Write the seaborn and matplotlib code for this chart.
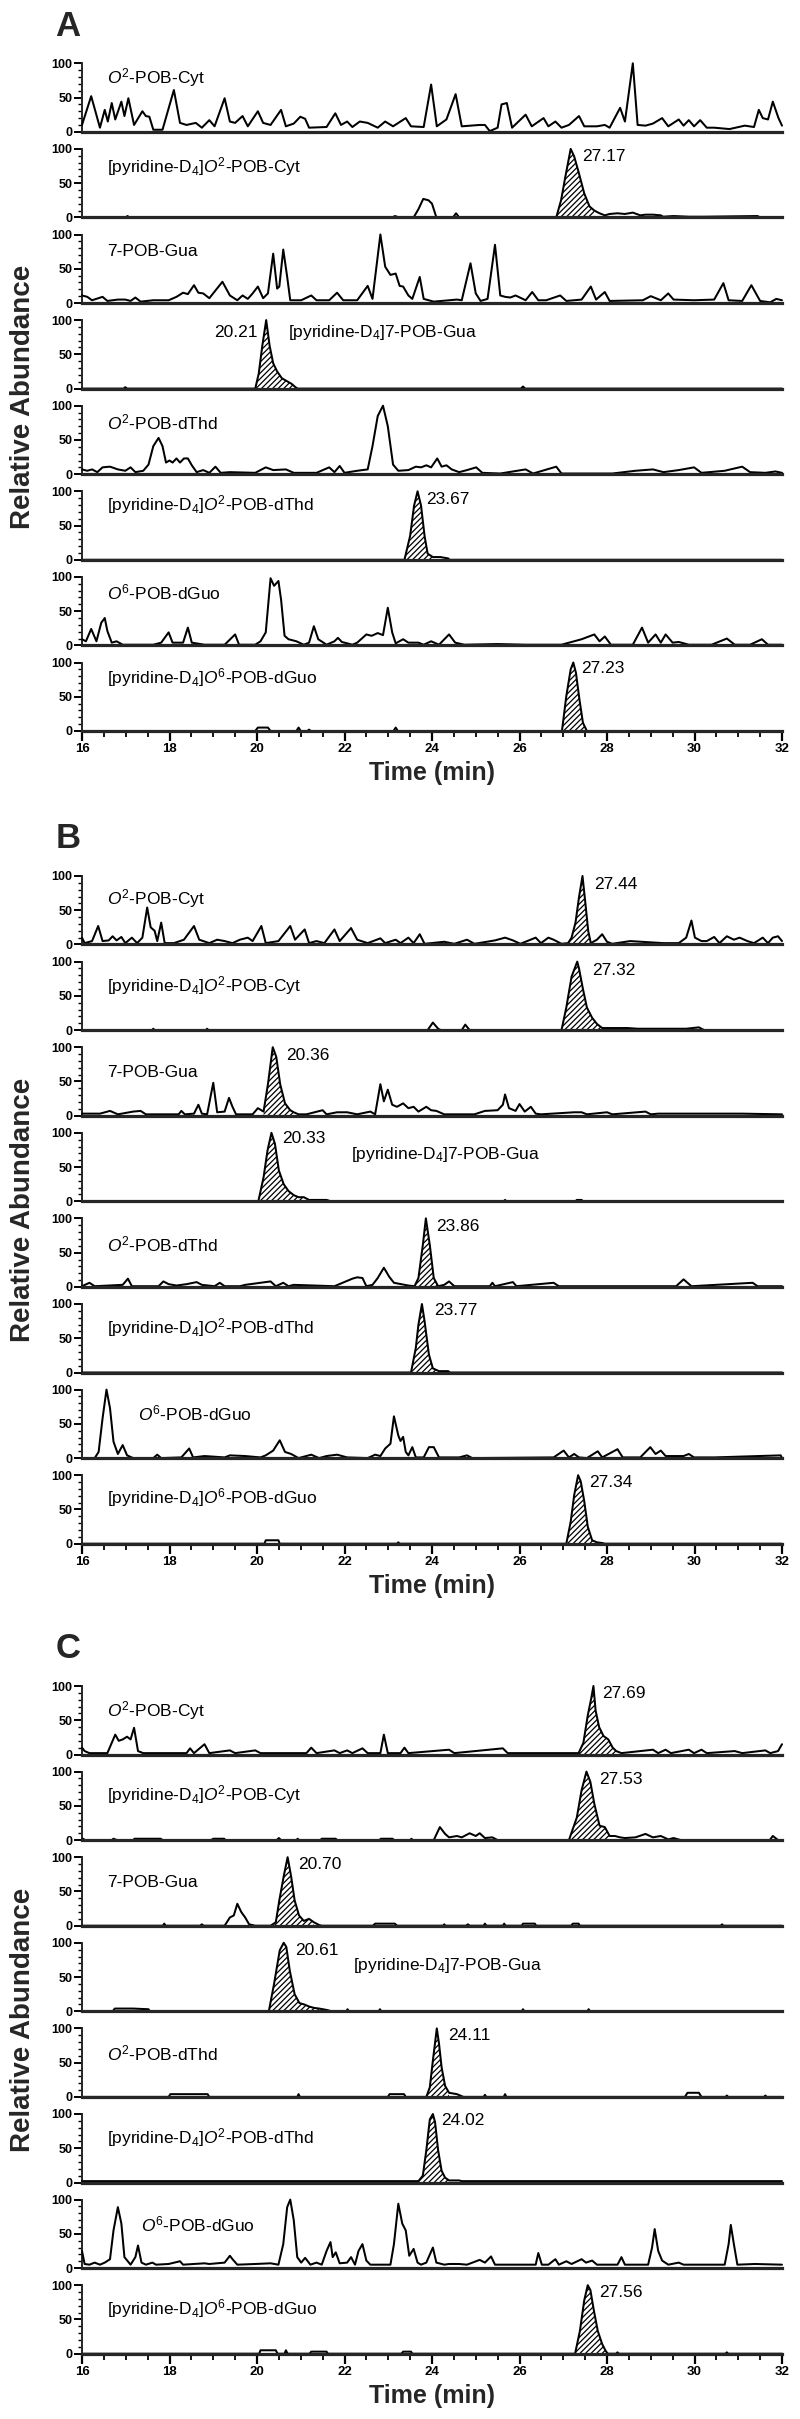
import numpy as np
import pandas as pd
import matplotlib
matplotlib.use("Agg")
import matplotlib.pyplot as plt
import seaborn as sns
from matplotlib.ticker import MultipleLocator
from matplotlib import font_manager

sns.set_theme(style="ticks")
names = {f.name for f in font_manager.fontManager.ttflist}
NARROW = "Liberation Sans Narrow" if "Liberation Sans Narrow" in names else "Liberation Sans"
plt.rcParams["font.family"] = [NARROW, "Liberation Sans", "DejaVu Sans"]
plt.rcParams["mathtext.fontset"] = "custom"
plt.rcParams["mathtext.rm"] = NARROW
plt.rcParams["mathtext.it"] = NARROW + ":italic"
plt.rcParams["mathtext.bf"] = NARROW + ":bold"
plt.rcParams["hatch.linewidth"] = 0.9

# ---------------- data ----------------
time_ticks = [16, 18, 20, 22, 24, 26, 28, 30, 32]
compounds = [r"$\mathit{O}^{2}$-POB-Cyt",
             r"[pyridine-D$_{4}$]$\mathit{O}^{2}$-POB-Cyt",
             "7-POB-Gua",
             r"[pyridine-D$_{4}$]7-POB-Gua",
             r"$\mathit{O}^{2}$-POB-dThd",
             r"[pyridine-D$_{4}$]$\mathit{O}^{2}$-POB-dThd",
             r"$\mathit{O}^{6}$-POB-dGuo",
             r"[pyridine-D$_{4}$]$\mathit{O}^{6}$-POB-dGuo"]

# Panel A traces (time min, relative abundance %)
A1 = [(16.00,10),(16.21,52),(16.41,6),(16.52,32),(16.59,15),(16.68,42),(16.76,18),(16.90,44),(16.97,23),(17.06,49),(17.19,10),(17.38,30),(17.46,23),(17.54,22),(17.63,3),(17.84,3),(18.10,61),(18.24,13),(18.39,10),(18.60,13),(18.74,6),(18.91,17),(19.03,8),(19.26,49),(19.38,15),(19.50,13),(19.67,23),(19.79,8),(20.02,30),(20.14,13),(20.31,10),(20.55,32),(20.66,8),(20.84,12),(20.99,22),(21.10,19),(21.19,6),(21.59,7),(21.79,27),(21.92,10),(22.06,15),(22.18,7),(22.35,15),(22.53,13),(22.76,6),(22.93,15),(23.11,8),(23.40,20),(23.52,8),(23.81,7),(23.98,69),(24.11,8),(24.33,18),(24.54,55),(24.68,8),(25.09,10),(25.21,10),(25.32,1),(25.50,6),(25.59,40),(25.71,42),(25.83,6),(26.14,25),(26.28,8),(26.55,20),(26.66,8),(26.82,15),(26.96,6),(27.13,10),(27.36,23),(27.48,8),(27.77,8),(27.95,10),(28.06,6),(28.30,35),(28.41,15),(28.59,100),(28.70,10),(28.88,9),(29.05,12),(29.26,20),(29.40,8),(29.64,18),(29.75,9),(29.87,17),(29.99,8),(30.13,17),(30.28,6),(30.45,6),(30.80,4),(31.15,9),(31.36,7),(31.47,32),(31.56,20),(31.68,18),(31.79,44),(31.92,20),(32.00,9)]
A2 = [(16.00,0),(17.00,0),(17.04,2),(17.08,0),(23.10,0),(23.15,2),(23.25,0),(23.58,0),(23.69,12),(23.80,27),(23.92,25),(24.00,20),(24.10,0),(24.48,0),(24.55,6),(24.62,0),(26.84,0),(26.95,25),(27.05,60),(27.17,100),(27.25,89),(27.36,64),(27.48,35),(27.60,16),(27.71,10),(27.83,6),(27.95,3),(28.06,5),(28.24,6),(28.41,5),(28.59,7),(28.76,3),(28.88,4),(29.05,4),(29.23,3),(29.28,1),(29.52,2),(29.87,1),(30.22,1),(31.44,2),(31.50,0),(32.00,0)]
A3 = [(16.00,11),(16.12,9),(16.23,4),(16.47,9),(16.58,3),(16.82,5),(16.99,5),(17.11,3),(17.22,8),(17.34,2),(17.63,4),(17.98,4),(18.16,9),(18.31,15),(18.42,13),(18.56,26),(18.66,15),(18.77,14),(18.91,7),(19.21,31),(19.38,11),(19.55,4),(19.67,11),(19.79,6),(19.90,14),(20.02,24),(20.14,7),(20.25,14),(20.37,72),(20.46,21),(20.51,24),(20.60,78),(20.69,38),(20.76,4),(21.01,4),(21.24,11),(21.36,4),(21.65,4),(21.83,15),(21.97,4),(22.29,4),(22.53,25),(22.64,6),(22.82,100),(22.93,53),(23.05,41),(23.17,43),(23.26,25),(23.34,24),(23.46,11),(23.55,6),(23.72,38),(23.81,6),(24.04,2),(24.57,5),(24.68,4),(24.88,58),(25.00,14),(25.11,3),(25.27,6),(25.44,85),(25.56,11),(25.67,9),(25.79,8),(25.91,11),(26.14,4),(26.29,16),(26.43,4),(26.61,4),(26.93,11),(27.07,3),(27.42,5),(27.63,24),(27.75,5),(27.95,16),(28.06,3),(28.82,4),(29.00,10),(29.23,4),(29.40,14),(29.52,5),(29.99,4),(30.45,5),(30.66,29),(30.78,4),(31.09,3),(31.30,26),(31.50,3),(31.73,1),(31.87,6),(32.00,4)]
A4 = [(16.00,0),(16.95,0),(16.99,2),(17.03,0),(19.96,0),(20.04,22),(20.12,62),(20.21,100),(20.29,62),(20.37,37),(20.46,25),(20.57,15),(20.68,11),(20.79,7),(20.88,2),(20.93,0),(26.03,0),(26.08,3),(26.13,0),(32.00,0)]
A5 = [(16.00,7),(16.12,5),(16.23,7),(16.35,3),(16.47,10),(16.64,11),(16.82,7),(16.99,5),(17.11,10),(17.22,3),(17.40,5),(17.52,14),(17.63,41),(17.75,53),(17.84,41),(17.92,17),(18.00,20),(18.07,17),(18.16,23),(18.24,17),(18.33,23),(18.42,23),(18.51,13),(18.62,3),(18.77,6),(18.91,2),(19.05,11),(19.17,2),(19.38,3),(19.96,2),(20.20,10),(20.37,6),(20.66,7),(20.84,2),(21.36,2),(21.65,10),(21.77,3),(21.89,12),(22.00,2),(22.29,5),(22.53,7),(22.64,41),(22.76,85),(22.88,100),(22.99,70),(23.11,14),(23.23,5),(23.46,6),(23.63,11),(23.75,10),(23.87,13),(23.98,10),(24.12,23),(24.22,11),(24.33,13),(24.45,7),(24.62,3),(24.80,6),(25.01,10),(25.15,2),(25.56,1),(26.14,7),(26.31,1),(26.84,11),(26.96,1),(28.12,1),(28.65,5),(29.05,7),(29.29,3),(29.64,6),(29.99,10),(30.16,2),(30.69,5),(31.09,11),(31.27,3),(31.62,2),(31.85,4),(32.00,2)]
A6 = [(16.00,0),(23.37,0),(23.50,35),(23.59,79),(23.67,100),(23.75,79),(23.83,35),(23.90,9),(24.02,4),(24.19,4),(24.37,2),(24.40,0),(32.00,0)]
A7 = [(16.00,9),(16.09,6),(16.21,24),(16.33,6),(16.44,33),(16.52,40),(16.58,21),(16.68,4),(16.79,6),(16.93,1),(17.63,1),(17.81,4),(17.98,19),(18.07,4),(18.31,4),(18.42,26),(18.51,4),(18.80,1),(19.26,1),(19.50,16),(19.59,1),(19.96,1),(20.08,6),(20.20,19),(20.31,98),(20.39,87),(20.49,94),(20.55,67),(20.63,14),(20.72,9),(20.90,6),(21.07,1),(21.19,4),(21.30,28),(21.40,9),(21.59,1),(21.77,6),(21.85,11),(21.94,5),(22.18,1),(22.29,4),(22.50,16),(22.62,14),(22.76,18),(22.88,15),(22.99,55),(23.09,19),(23.17,3),(23.34,9),(23.46,4),(23.69,4),(23.81,1),(23.98,6),(24.16,1),(24.39,16),(24.53,4),(24.74,1),(25.50,2),(26.14,1),(26.96,1),(27.42,9),(27.71,16),(27.83,6),(27.95,13),(28.09,1),(28.59,1),(28.80,26),(28.94,4),(29.11,16),(29.23,4),(29.34,16),(29.50,4),(29.64,5),(29.87,1),(30.39,1),(30.74,10),(30.92,1),(31.27,1),(31.54,9),(31.68,1),(32.00,1)]
A8 = [(16.00,0),(19.96,0),(20.02,5),(20.25,5),(20.31,0),(20.90,0),(20.95,5),(21.00,0),(21.15,0),(21.19,2),(21.23,0),(23.12,0),(23.17,5),(23.22,0),(26.97,0),(27.07,51),(27.17,90),(27.23,100),(27.29,85),(27.37,46),(27.45,12),(27.54,0),(32.00,0)]

# Panel B traces
B1 = [(16.00,10),(16.06,2),(16.23,5),(16.37,27),(16.47,5),(16.61,6),(16.70,12),(16.79,6),(16.90,11),(16.99,2),(17.14,10),(17.26,2),(17.38,10),(17.49,54),(17.57,25),(17.66,20),(17.72,5),(17.81,32),(17.89,2),(18.10,2),(18.33,7),(18.56,27),(18.68,7),(18.91,2),(19.09,7),(19.26,5),(19.44,2),(19.61,7),(19.79,10),(19.90,5),(20.10,27),(20.20,2),(20.49,5),(20.76,27),(20.87,7),(21.09,22),(21.19,2),(21.36,5),(21.54,2),(21.77,22),(21.89,5),(22.15,24),(22.29,7),(22.53,2),(22.82,9),(22.93,2),(23.17,7),(23.28,2),(23.46,10),(23.58,2),(23.72,15),(23.83,1),(24.28,4),(24.51,1),(24.80,7),(24.97,1),(25.44,6),(25.67,10),(25.85,6),(26.02,1),(26.37,10),(26.49,2),(26.66,10),(26.78,7),(26.96,1),(27.11,2),(27.19,10),(27.28,32),(27.36,69),(27.44,100),(27.50,64),(27.57,20),(27.63,2),(27.77,7),(27.89,15),(28.00,4),(28.12,1),(28.53,5),(29.29,2),(29.64,2),(29.81,10),(29.93,35),(30.01,10),(30.16,5),(30.28,5),(30.45,11),(30.57,2),(30.74,12),(30.90,7),(31.03,10),(31.21,5),(31.36,2),(31.56,10),(31.68,2),(31.79,10),(31.91,12),(32.00,5)]
B2 = [(16.00,0),(17.60,0),(17.63,2),(17.66,0),(18.83,0),(18.86,2),(18.89,0),(23.90,0),(24.02,11),(24.14,2),(24.20,0),(24.68,0),(24.76,8),(24.86,0),(26.96,0),(27.07,33),(27.19,78),(27.32,100),(27.36,90),(27.45,60),(27.54,33),(27.66,18),(27.77,9),(27.89,3),(28.12,3),(28.47,3),(28.70,2),(29.11,2),(29.81,2),(30.10,4),(30.22,0),(32.00,0)]
B3 = [(16.00,3),(16.41,3),(16.64,7),(16.82,2),(17.17,6),(17.34,7),(17.46,2),(18.21,2),(18.27,7),(18.35,2),(18.56,3),(18.66,16),(18.74,3),(18.86,2),(19.00,48),(19.09,5),(19.26,6),(19.36,26),(19.44,13),(19.52,2),(19.90,2),(20.02,11),(20.15,6),(20.25,46),(20.36,100),(20.44,86),(20.53,46),(20.64,18),(20.76,8),(20.84,5),(20.95,2),(21.13,2),(21.50,8),(21.59,2),(21.83,5),(22.06,5),(22.29,2),(22.59,6),(22.70,2),(22.82,46),(22.90,21),(22.99,38),(23.09,16),(23.20,13),(23.34,18),(23.46,11),(23.58,13),(23.69,6),(23.87,13),(23.98,8),(24.10,7),(24.28,2),(24.97,2),(25.21,7),(25.50,8),(25.62,16),(25.67,31),(25.76,11),(25.91,7),(26.00,17),(26.12,6),(26.26,13),(26.37,3),(26.49,2),(27.25,5),(27.42,5),(27.54,2),(28.00,5),(28.12,2),(28.88,6),(29.00,2),(29.17,3),(30.45,3),(31.09,3),(32.00,2)]
B4 = [(16.00,0),(20.03,0),(20.15,35),(20.24,74),(20.33,100),(20.41,84),(20.50,45),(20.61,25),(20.72,15),(20.84,9),(20.95,6),(21.07,6),(21.19,2),(21.59,2),(21.69,0),(25.64,0),(25.67,2),(25.70,0),(27.28,0),(27.31,2),(27.42,2),(27.45,0),(32.00,0)]
B5 = [(16.00,1),(16.17,6),(16.29,1),(16.93,3),(17.05,12),(17.14,1),(17.75,1),(17.86,8),(17.98,4),(18.16,2),(18.39,4),(18.62,7),(18.74,3),(19.03,1),(19.15,6),(19.26,1),(19.61,1),(19.73,3),(20.31,8),(20.43,1),(20.60,6),(20.72,1),(20.84,3),(21.77,1),(22.18,12),(22.29,14),(22.41,13),(22.50,1),(22.64,3),(22.76,13),(22.90,28),(23.02,15),(23.13,6),(23.46,2),(23.60,1),(23.69,13),(23.79,61),(23.86,100),(23.95,61),(24.04,13),(24.14,1),(24.28,3),(24.39,8),(24.51,1),(25.32,1),(25.38,6),(25.44,1),(25.85,7),(25.93,1),(26.78,6),(26.90,1),(29.58,1),(29.75,11),(29.93,1),(31.33,6),(31.44,1),(32.00,1)]
B6 = [(16.00,0),(23.52,0),(23.63,36),(23.69,70),(23.77,100),(23.83,75),(23.93,26),(24.02,6),(24.16,2),(24.37,2),(24.41,0),(32.00,0)]
B7 = [(16.00,0),(16.29,0),(16.38,9),(16.47,58),(16.56,100),(16.64,73),(16.72,24),(16.82,6),(16.93,19),(17.03,4),(17.17,0),(17.63,0),(17.72,5),(17.81,0),(18.27,1),(18.45,14),(18.54,1),(18.80,3),(19.26,1),(19.38,4),(19.73,3),(20.08,1),(20.20,4),(20.37,11),(20.52,26),(20.64,9),(20.78,6),(20.95,0),(21.24,5),(21.42,0),(21.59,3),(21.83,5),(22.06,1),(22.53,0),(22.70,5),(22.82,3),(22.93,14),(23.05,21),(23.13,61),(23.23,33),(23.28,25),(23.34,31),(23.40,9),(23.46,4),(23.55,16),(23.63,1),(23.81,1),(23.93,16),(24.04,16),(24.16,1),(24.62,1),(24.80,4),(24.92,0),(26.78,1),(27.01,11),(27.13,1),(27.25,6),(27.36,1),(27.54,0),(27.79,10),(27.89,1),(28.24,13),(28.36,1),(28.76,1),(28.99,16),(29.11,6),(29.23,11),(29.34,3),(29.75,3),(29.87,6),(29.99,1),(30.22,1),(30.45,1),(31.97,4),(32.00,0)]
B8 = [(16.00,0),(20.17,0),(20.20,5),(20.49,5),(20.52,0),(23.20,0),(23.23,2),(23.26,0),(27.07,0),(27.17,32),(27.25,71),(27.34,100),(27.40,91),(27.48,62),(27.56,25),(27.66,5),(27.77,2),(27.89,1),(27.95,0),(32.00,0)]

# Panel C traces
C1 = [(16.00,10),(16.06,5),(16.17,2),(16.58,2),(16.68,17),(16.76,29),(16.84,20),(16.93,22),(17.03,26),(17.11,22),(17.19,39),(17.28,5),(17.40,2),(18.39,2),(18.47,9),(18.56,2),(18.80,15),(18.91,2),(19.38,6),(19.50,2),(19.96,6),(20.08,2),(21.13,2),(21.24,10),(21.36,2),(21.77,6),(21.89,2),(22.06,6),(22.18,2),(22.41,9),(22.53,2),(22.82,2),(22.90,29),(22.99,2),(23.28,2),(23.37,10),(23.46,2),(24.39,7),(24.51,2),(25.62,9),(25.73,2),(27.35,2),(27.46,17),(27.56,57),(27.64,82),(27.69,100),(27.74,64),(27.82,40),(27.92,27),(28.03,22),(28.13,10),(28.21,5),(28.33,2),(29.05,7),(29.17,2),(29.34,7),(29.46,2),(29.87,7),(29.99,2),(30.16,7),(30.28,2),(30.92,5),(31.09,2),(31.62,6),(31.73,2),(31.91,5),(32.00,15)]
C2 = [(16.00,0),(16.03,2),(16.06,0),(16.68,0),(16.72,2),(16.80,0),(17.17,0),(17.20,2),(17.80,2),(17.84,0),(18.95,0),(19.00,2),(19.25,2),(19.28,0),(20.45,0),(20.50,3),(20.55,0),(20.90,0),(20.93,2),(20.96,0),(21.45,0),(21.48,2),(21.80,2),(21.83,0),(22.80,0),(22.83,2),(23.10,2),(23.13,0),(23.50,0),(23.53,2),(23.56,0),(24.04,0),(24.18,19),(24.30,9),(24.39,4),(24.57,6),(24.68,4),(24.86,10),(25.00,6),(25.09,10),(25.21,3),(25.38,4),(25.50,0),(27.13,0),(27.19,11),(27.31,33),(27.42,73),(27.53,100),(27.62,85),(27.71,53),(27.83,21),(27.95,19),(28.06,6),(28.18,6),(28.30,4),(28.41,3),(28.65,4),(28.88,9),(29.05,4),(29.23,6),(29.40,1),(29.52,3),(29.69,0),(31.72,0),(31.79,6),(31.91,0),(32.00,0)]
C3 = [(16.00,0),(17.85,0),(17.88,3),(17.91,0),(18.70,0),(18.74,2),(18.78,0),(19.26,0),(19.38,12),(19.47,15),(19.55,32),(19.64,20),(19.73,12),(19.82,2),(19.96,0),(20.31,0),(20.43,5),(20.51,37),(20.61,72),(20.70,100),(20.78,72),(20.86,37),(20.96,15),(21.07,7),(21.19,10),(21.30,5),(21.42,1),(21.48,0),(22.65,0),(22.70,3),(23.15,3),(23.20,0),(24.25,0),(24.28,2),(24.31,0),(24.78,0),(24.82,2),(24.86,0),(25.18,0),(25.21,3),(25.24,0),(25.62,0),(25.65,3),(25.68,0),(26.05,0),(26.08,3),(26.35,3),(26.38,0),(27.18,0),(27.22,3),(27.35,3),(27.38,0),(30.60,0),(30.63,2),(30.66,0),(32.00,0)]
C4 = [(16.00,0),(16.70,0),(16.75,4),(17.17,4),(17.52,3),(17.55,0),(20.27,0),(20.39,40),(20.52,89),(20.61,100),(20.67,94),(20.75,59),(20.86,25),(20.97,12),(21.08,10),(21.19,7),(21.30,5),(21.42,4),(21.59,2),(21.71,0),(22.04,0),(22.07,3),(22.10,0),(22.78,0),(22.81,3),(22.84,0),(26.05,0),(26.08,3),(26.11,0),(27.55,0),(27.58,3),(27.61,0),(32.00,0)]
C5 = [(16.00,0),(17.98,0),(18.02,4),(18.87,4),(18.91,0),(20.92,0),(20.95,4),(20.98,0),(22.99,0),(23.03,4),(23.36,4),(23.40,0),(23.87,0),(23.95,14),(24.02,53),(24.11,100),(24.16,78),(24.22,43),(24.30,16),(24.39,6),(24.57,4),(24.68,1),(24.72,0),(25.18,0),(25.21,3),(25.24,0),(25.64,0),(25.67,4),(25.70,0),(29.78,0),(29.84,6),(30.10,6),(30.16,0),(30.71,0),(30.74,2),(30.77,0),(31.59,0),(31.62,2),(31.65,0),(32.00,0)]
C6 = [(16.00,2),(23.69,2),(23.79,10),(23.87,47),(23.95,92),(24.02,100),(24.07,88),(24.14,47),(24.22,17),(24.30,7),(24.39,3),(24.62,3),(24.68,2),(32.00,2)]
C7 = [(16.00,25),(16.06,6),(16.17,5),(16.29,8),(16.41,5),(16.52,8),(16.64,13),(16.72,55),(16.82,89),(16.90,65),(16.97,16),(17.11,5),(17.22,16),(17.28,33),(17.36,8),(17.46,5),(17.61,8),(17.69,5),(17.98,6),(18.24,10),(18.31,5),(18.80,7),(18.91,6),(19.26,8),(19.38,18),(19.44,13),(19.55,5),(19.96,6),(20.31,7),(20.49,5),(20.60,35),(20.69,89),(20.76,100),(20.84,70),(20.92,16),(21.01,8),(21.10,15),(21.22,5),(21.36,8),(21.48,5),(21.59,25),(21.68,38),(21.73,16),(21.80,23),(21.89,7),(22.06,8),(22.15,16),(22.24,5),(22.32,25),(22.41,35),(22.50,11),(22.59,5),(23.05,5),(23.13,35),(23.23,94),(23.32,65),(23.40,55),(23.48,18),(23.58,28),(23.67,8),(23.75,5),(23.87,8),(24.02,30),(24.10,8),(24.28,5),(24.39,6),(24.62,6),(24.80,5),(25.09,12),(25.21,8),(25.35,17),(25.44,5),(25.62,5),(25.79,5),(26.37,5),(26.43,22),(26.51,5),(26.66,5),(26.82,13),(26.90,5),(27.07,10),(27.19,6),(27.42,13),(27.52,8),(27.66,11),(27.77,5),(28.24,5),(28.33,16),(28.41,5),(28.94,5),(29.03,30),(29.09,57),(29.17,25),(29.26,11),(29.40,5),(29.64,8),(29.75,5),(30.69,5),(30.78,35),(30.83,63),(30.90,35),(30.98,5),(31.38,6),(32.00,5)]
C8 = [(16.00,0),(20.05,0),(20.08,5),(20.43,5),(20.47,0),(20.63,0),(20.66,5),(20.70,0),(21.20,0),(21.24,3),(21.59,3),(21.62,0),(23.30,0),(23.34,3),(23.52,3),(23.55,0),(27.27,0),(27.38,33),(27.48,78),(27.56,100),(27.62,93),(27.70,63),(27.79,33),(27.89,14),(27.97,4),(28.02,0),(28.21,0),(28.24,2),(28.27,0),(30.71,0),(30.74,2),(30.77,0),(32.00,0)]

# shaded (hatched) peak windows, minutes
A_hatch = [None, (26.84, 27.71), None, (19.96, 20.88), None, (23.37, 24.02), None, (26.97, 27.54)]
B_hatch = [(27.11, 27.63), (26.96, 27.89), (20.15, 20.84), (20.03, 21.07), (23.60, 24.14), (23.52, 24.16), None, (27.07, 27.77)]
C_hatch = [(27.35, 28.21), (27.13, 28.06), (20.31, 21.30), (20.27, 21.42), (23.87, 24.39), (23.69, 24.39), None, (27.27, 28.02)]

# retention-time annotations
A_rt = [None, "27.17", None, "20.21", None, "23.67", None, "27.23"]
B_rt = ["27.44", "27.32", "20.36", "20.33", "23.86", "23.77", None, "27.34"]
C_rt = ["27.69", "27.53", "20.70", "20.61", "24.11", "24.02", None, "27.56"]
A_rt_x = [None, 27.43, None, 20.02, None, 23.87, None, 27.42]
A_rt_y = [None, 89, None, 82, None, 88, None, 91]
B_rt_x = [27.71, 27.66, 20.66, 20.58, 24.10, 24.05, None, 27.60]
B_rt_y = [87, 87, 88, 92, 88, 90, None, 89]
C_rt_x = [27.89, 27.83, 20.95, 20.86, 24.36, 24.22, None, 27.83]
C_rt_y = [89, 89, 89, 89, 90, 91, None, 90]

# compound label anchors
A_lab_x = [16.58, 16.58, 16.58, 20.72, 16.58, 16.58, 16.58, 16.58]
A_lab_y = [79, 74, 75, 82, 76, 80, 78, 78]
B_lab_x = [16.58, 16.58, 16.58, 22.14, 16.58, 16.58, 17.28, 16.58]
B_lab_y = [67, 65, 63, 69, 62, 65, 65, 67]
C_lab_x = [16.58, 16.58, 16.58, 22.20, 16.58, 16.58, 17.34, 16.58]
C_lab_y = [64, 66, 63, 67, 63, 65, 63, 66]

panels = [
    ("A", 63.3, [A1, A2, A3, A4, A5, A6, A7, A8], A_hatch, A_rt, A_rt_x, A_rt_y, A_lab_x, A_lab_y),
    ("B", 876.0, [B1, B2, B3, B4, B5, B6, B7, B8], B_hatch, B_rt, B_rt_x, B_rt_y, B_lab_x, B_lab_y),
    ("C", 1686.0, [C1, C2, C3, C4, C5, C6, C7, C8], C_hatch, C_rt, C_rt_x, C_rt_y, C_lab_x, C_lab_y),
]

# ---------------- layout (pixels) ----------------
W, H = 800, 2419
AX_L, AX_W = 82, 700
ROW_PITCH, ROW_H = 85.6, 68.5

fig = plt.figure(figsize=(W / 100, H / 100), dpi=100)
fig.patch.set_facecolor("white")

YNUM = dict(fontweight="bold", fontsize=9)
XNUM = dict(fontweight="bold", fontsize=9.5)
BOLD_FAM = ["Liberation Sans", "DejaVu Sans"]

for letter, top, traces, hatches, rts, rtx, rty, labx, laby in panels:
    for i, tr in enumerate(traces):
        y100 = top + i * ROW_PITCH
        y0 = y100 + ROW_H
        ax = fig.add_axes([AX_L / W, 1 - y0 / H, AX_W / W, ROW_H / H])
        ax.set_facecolor("none")
        df = pd.DataFrame(tr, columns=["t", "v"])
        hw = hatches[i]
        if hw is not None:
            m = (df["t"] >= hw[0]) & (df["t"] <= hw[1])
            ax.fill_between(df["t"][m], df["v"][m], 0, facecolor="white",
                            edgecolor="black", hatch="//////", linewidth=0, zorder=1)
        sns.lineplot(data=df, x="t", y="v", ax=ax, color="black", linewidth=1.45,
                     estimator=None, sort=False, errorbar=None, clip_on=False, zorder=3)
        ax.set_xlim(16, 32)
        ax.set_ylim(0, 100)
        ax.set_xlabel("")
        ax.set_ylabel("")
        for s in ["top", "right"]:
            ax.spines[s].set_visible(False)
        ax.spines["bottom"].set_linewidth(2.3)
        ax.spines["left"].set_linewidth(1.4)
        ax.spines["bottom"].set_zorder(4)
        ax.set_yticks([0, 50, 100])
        ax.set_yticklabels(["0", "50", "100"], **YNUM)
        ax.yaxis.set_minor_locator(MultipleLocator(10))
        ax.tick_params(axis="y", which="major", direction="out", length=5.5, width=1.4, pad=1.2, colors="black")
        ax.tick_params(axis="y", which="minor", direction="out", length=3, width=1.0, colors="black")
        if i == len(traces) - 1:
            ax.set_xticks(time_ticks)
            ax.set_xticklabels([str(t) for t in time_ticks], **XNUM)
            ax.xaxis.set_minor_locator(MultipleLocator(0.5))
            ax.tick_params(axis="x", which="major", direction="out", length=7, width=1.6, pad=2, colors="black")
            ax.tick_params(axis="x", which="minor", direction="out", length=4.5, width=1.3, colors="black")
        else:
            ax.set_xticks([])
            ax.tick_params(axis="x", which="both", length=0, labelbottom=False)
        ax.text(labx[i], laby[i], compounds[i], fontsize=12.5, va="center", ha="left", color="black")
        if rts[i] is not None:
            ha = "right" if (letter == "A" and i == 3) else "left"
            ax.text(rtx[i], rty[i], rts[i], fontsize=12.5, va="center", ha=ha, color="black")

    yc = top + (7 * ROW_PITCH + ROW_H) / 2
    fig.text(23 / W, 1 - yc / H, "Relative Abundance", rotation=90, ha="center", va="center",
             fontsize=20, fontweight="bold", family=BOLD_FAM)
    ybot = top + 7 * ROW_PITCH + ROW_H
    fig.text(432 / W, 1 - (ybot + 42) / H, "Time (min)", ha="center", va="center",
             fontsize=18, fontweight="bold", family=BOLD_FAM)
    fig.text(68 / W, 1 - (top - 37) / H, letter, ha="center", va="center",
             fontsize=25, fontweight="bold", family=BOLD_FAM)

fig.savefig("out.png", dpi=100, facecolor="white")
